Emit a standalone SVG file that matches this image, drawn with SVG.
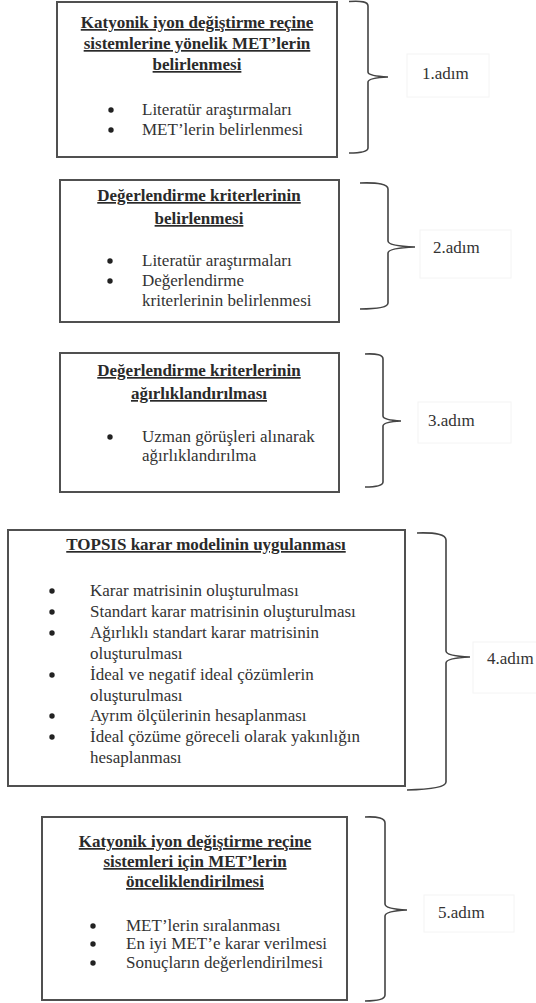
<svg xmlns="http://www.w3.org/2000/svg" width="536" height="1003" viewBox="0 0 536 1003">
<style>
.box{fill:#fff;stroke:#505050;stroke-width:2}
.t{font-family:"Liberation Serif","Times New Roman",serif;font-size:17px;font-weight:bold;fill:#2a2a2a;text-anchor:middle;text-decoration:underline}
.b{font-family:"Liberation Serif","Times New Roman",serif;font-size:17px;fill:#333}
.dot{fill:#222}
.brace{fill:none;stroke:#444;stroke-width:1.6}
.lb{fill:none;stroke:#f4f4f4;stroke-width:1}
.lab{font-family:"Liberation Serif","Times New Roman",serif;font-size:17px;fill:#333}
</style>
<rect width="536" height="1003" fill="#fff"/>
<g id="node1">
<rect class="box" x="57" y="2" width="280" height="155"/>
<text class="t" x="197" y="28">Katyonik iyon değiştirme reçine</text>
<text class="t" x="197" y="49">sistemlerine yönelik MET’lerin</text>
<text class="t" x="197" y="70">belirlenmesi</text>
<circle class="dot" cx="111" cy="110" r="2.7"/>
<text class="b" x="142" y="115">Literatür araştırmaları</text>
<circle class="dot" cx="111" cy="130" r="2.7"/>
<text class="b" x="142" y="135">MET’lerin belirlenmesi</text>
</g>
<g id="node2">
<rect class="box" x="60" y="180" width="279" height="142"/>
<text class="t" x="199" y="201">Değerlendirme kriterlerinin</text>
<text class="t" x="199" y="224">belirlenmesi</text>
<circle class="dot" cx="110" cy="261" r="2.7"/>
<text class="b" x="142" y="266">Literatür araştırmaları</text>
<circle class="dot" cx="110" cy="281" r="2.7"/>
<text class="b" x="142" y="286">Değerlendirme</text>
<text class="b" x="142" y="306">kriterlerinin belirlenmesi</text>
</g>
<g id="node3">
<rect class="box" x="60" y="353" width="279" height="139"/>
<text class="t" x="199" y="376">Değerlendirme kriterlerinin</text>
<text class="t" x="199" y="399">ağırlıklandırılması</text>
<circle class="dot" cx="110" cy="437" r="2.7"/>
<text class="b" x="142" y="442">Uzman görüşleri alınarak</text>
<text class="b" x="142" y="461">ağırlıklandırılma</text>
</g>
<g id="node4">
<rect class="box" x="8" y="530" width="397" height="256"/>
<text class="t" x="206" y="550">TOPSIS karar modelinin uygulanması</text>
<circle class="dot" cx="52" cy="591" r="2.7"/>
<text class="b" x="90" y="596">Karar matrisinin oluşturulması</text>
<circle class="dot" cx="52" cy="612" r="2.7"/>
<text class="b" x="90" y="617">Standart karar matrisinin oluşturulması</text>
<circle class="dot" cx="52" cy="633" r="2.7"/>
<text class="b" x="90" y="638">Ağırlıklı standart karar matrisinin</text>
<text class="b" x="90" y="659">oluşturulması</text>
<circle class="dot" cx="52" cy="675" r="2.7"/>
<text class="b" x="90" y="680">İdeal ve negatif ideal çözümlerin</text>
<text class="b" x="90" y="701">oluşturulması</text>
<circle class="dot" cx="52" cy="716" r="2.7"/>
<text class="b" x="90" y="721">Ayrım ölçülerinin hesaplanması</text>
<circle class="dot" cx="52" cy="737" r="2.7"/>
<text class="b" x="90" y="742">İdeal çözüme göreceli olarak yakınlığın</text>
<text class="b" x="90" y="763">hesaplanması</text>
</g>
<g id="node5">
<rect class="box" x="42" y="817" width="305" height="183"/>
<text class="t" x="195" y="847">Katyonik iyon değiştirme reçine</text>
<text class="t" x="195" y="867">sistemleri için MET’lerin</text>
<text class="t" x="195" y="887">önceliklendirilmesi</text>
<circle class="dot" cx="93" cy="926" r="2.7"/>
<text class="b" x="126" y="931">MET’lerin sıralanması</text>
<circle class="dot" cx="93" cy="944" r="2.7"/>
<text class="b" x="126" y="949">En iyi MET’e karar verilmesi</text>
<circle class="dot" cx="93" cy="963" r="2.7"/>
<text class="b" x="126" y="968">Sonuçların değerlendirilmesi</text>
</g>
<g id="connectors">
<path class="brace" d="M349,1.5 Q368,0 368,6 L368,72 Q368,76 388,77 Q368,78 368,82 L368,148 Q368,153 349,153"/>
<path class="brace" d="M360,183 Q388,182 388,189 L388,241 Q388,246 415,247 Q388,248 388,253 L388,303 Q388,309 360,309"/>
<path class="brace" d="M365,354 Q383,353 383,359 L383,416 Q383,420 401,421 Q383,422 383,426 L383,482 Q383,487 365,487"/>
<path class="brace" d="M417,533 Q446,532 446,540 L446,651 Q446,656 470,657 Q446,658 446,663 L446,782 Q446,789 407,790"/>
<path class="brace" d="M365,817 Q385,816 385,823 L385,904 Q385,909 407,910 Q385,911 385,916 L385,995 Q385,1001 365,1001"/>
</g>
<g id="label1"><rect class="lb" x="407" y="54" width="82" height="43"/><text class="lab" x="422" y="79">1.adım</text></g>
<g id="label2"><rect class="lb" x="420" y="230" width="91" height="48"/><text class="lab" x="433" y="253">2.adım</text></g>
<g id="label3"><rect class="lb" x="418" y="402" width="93" height="41"/><text class="lab" x="428" y="426">3.adım</text></g>
<g id="label4"><rect class="lb" x="473" y="642" width="70" height="51"/><text class="lab" x="487" y="664">4.adım</text></g>
<g id="label5"><rect class="lb" x="424" y="895" width="90" height="37"/><text class="lab" x="438" y="918">5.adım</text></g>
</svg>
